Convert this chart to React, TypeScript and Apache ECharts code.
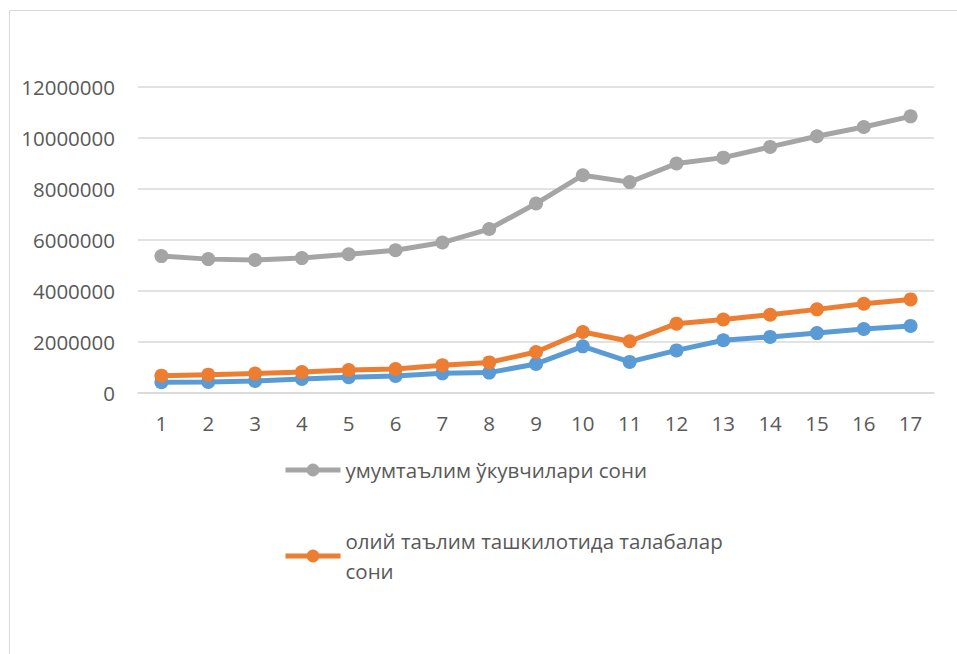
import React, { useEffect, useRef } from "react";
import * as echarts from "echarts";

const categories = ["1","2","3","4","5","6","7","8","9","10","11","12","13","14","15","16","17"];
const grayName = "умумтаълим ўкувчилари сони";
const orangeName = "олий таълим ташкилотида талабалар сони";
const blueName = "3-қатор";
const grayValues = [5370000, 5250000, 5220000, 5290000, 5440000, 5600000, 5900000, 6430000, 7430000, 8540000, 8270000, 9000000, 9230000, 9650000, 10070000, 10430000, 10850000];
const orangeValues = [680000, 720000, 760000, 820000, 900000, 940000, 1090000, 1200000, 1610000, 2390000, 2030000, 2720000, 2880000, 3070000, 3280000, 3500000, 3670000];
const blueValues = [420000, 430000, 470000, 550000, 620000, 670000, 770000, 800000, 1140000, 1830000, 1220000, 1670000, 2070000, 2200000, 2350000, 2510000, 2630000];
const yTicks = { min: 0, max: 12000000, interval: 2000000 };

const FONT = "'Open Sans', 'Noto Sans', sans-serif";
const TXT = "#595959";
const FS = 20.5;

export default function App() {
  const ref = useRef<HTMLDivElement>(null);
  useEffect(() => {
    document.body.style.margin = "0";
    const chart = echarts.init(ref.current!, null, { renderer: "svg" });
    const mk = (name: string, data: number[], color: string) => ({
      name,
      type: "line",
      data,
      symbol: "circle",
      symbolSize: 14,
      lineStyle: { width: 5, color },
      itemStyle: { color },
      emphasis: { disabled: true },
    });
    const legendCommon = {
      orient: "vertical",
      padding: 0,
      itemWidth: 55,
      itemHeight: 16,
      itemGap: 5,
      lineStyle: { width: 5 },
      textStyle: { fontFamily: FONT, fontSize: FS, color: TXT, lineHeight: 30 },
      selectedMode: false,
    };
    chart.setOption({
      animation: false,
      backgroundColor: "#ffffff",
      graphic: [
        {
          type: "rect",
          shape: { x: 9.5, y: 10.5, width: 960, height: 660 },
          style: { fill: "none", stroke: "#D9D9D9", lineWidth: 1 },
          silent: true,
        },
      ],
      grid: { left: 138, right: 23, top: 87, bottom: 261 },
      legend: [
        { ...legendCommon, data: [grayName], left: 283, top: 455 },
        {
          ...legendCommon,
          data: [orangeName],
          left: 283,
          top: 511,
          formatter: (n: string) => n.replace(/ (\S+)$/, "\n$1"),
          textStyle: { ...legendCommon.textStyle, padding: [30, 0, 0, 0] },
        },
      ],
      xAxis: {
        type: "category",
        data: categories,
        boundaryGap: true,
        axisLine: { show: true, lineStyle: { color: "#D9D9D9", width: 1.5 } },
        axisTick: { show: false },
        axisLabel: { fontFamily: FONT, fontSize: FS, color: TXT, margin: 19 },
      },
      yAxis: {
        type: "value",
        min: yTicks.min,
        max: yTicks.max,
        interval: yTicks.interval,
        axisLine: { show: false },
        axisTick: { show: false },
        splitLine: { lineStyle: { color: "#D9D9D9", width: 1.5 } },
        axisLabel: {
          fontFamily: FONT,
          fontSize: FS,
          color: TXT,
          margin: 23,
          formatter: (v: number) => String(v),
        },
      },
      series: [
        mk(blueName, blueValues, "#5B9BD5"),
        mk(orangeName, orangeValues, "#ED7D31"),
        mk(grayName, grayValues, "#A5A5A5"),
      ],
    });
    return () => chart.dispose();
  }, []);
  return <div ref={ref} style={{ width: 957, height: 654, position: "fixed", left: 0, top: 0 }} />;
}
